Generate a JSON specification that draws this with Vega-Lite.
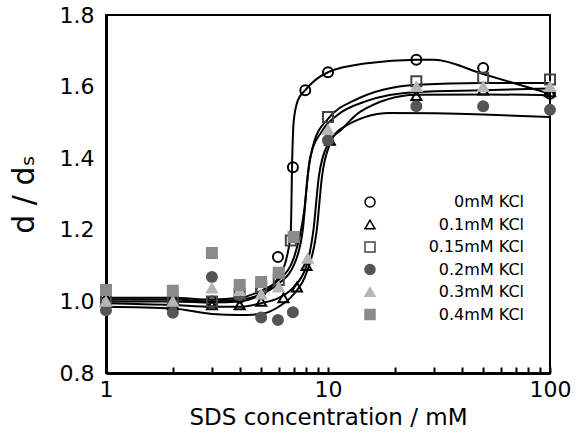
{
  "$schema": "https://vega.github.io/schema/vega-lite/v6.json",
  "autosize": {"type": "none"},
  "width": 444,
  "height": 358,
  "padding": {"left": 106, "top": 15, "right": 35, "bottom": 60},
  "background": "white",
  "config": {
    "view": {"stroke": "black", "strokeWidth": 2},
    "font": "DejaVu Sans",
    "axis": {"grid": false, "domainColor": "black", "domainWidth": 3, "tickColor": "black", "labelColor": "black", "titleColor": "black", "labelFont": "DejaVu Sans", "titleFont": "DejaVu Sans", "titleFontWeight": "normal"}
  },
  "datasets": {
    "points": [
      {"c": 1, "r": 1.0, "s": "0mM KCl"}, {"c": 2, "r": 1.0, "s": "0mM KCl"}, {"c": 3, "r": 1.0, "s": "0mM KCl"}, {"c": 4, "r": 1.01, "s": "0mM KCl"}, {"c": 5, "r": 1.03, "s": "0mM KCl"}, {"c": 5.95, "r": 1.124, "s": "0mM KCl"}, {"c": 6.95, "r": 1.375, "s": "0mM KCl"}, {"c": 7.9, "r": 1.59, "s": "0mM KCl"}, {"c": 10, "r": 1.64, "s": "0mM KCl"}, {"c": 25, "r": 1.675, "s": "0mM KCl"}, {"c": 50, "r": 1.652, "s": "0mM KCl"}, {"c": 100, "r": 1.58, "s": "0mM KCl"},
      {"c": 1, "r": 1.0, "s": "0.1mM KCl"}, {"c": 2, "r": 0.99, "s": "0.1mM KCl"}, {"c": 3, "r": 0.99, "s": "0.1mM KCl"}, {"c": 4, "r": 0.99, "s": "0.1mM KCl"}, {"c": 5, "r": 1.0, "s": "0.1mM KCl"}, {"c": 6.3, "r": 1.01, "s": "0.1mM KCl"}, {"c": 7.25, "r": 1.04, "s": "0.1mM KCl"}, {"c": 8, "r": 1.1, "s": "0.1mM KCl"}, {"c": 10.2, "r": 1.45, "s": "0.1mM KCl"}, {"c": 25, "r": 1.575, "s": "0.1mM KCl"}, {"c": 50, "r": 1.59, "s": "0.1mM KCl"}, {"c": 100, "r": 1.585, "s": "0.1mM KCl"},
      {"c": 1, "r": 1.01, "s": "0.15mM KCl"}, {"c": 2, "r": 1.0, "s": "0.15mM KCl"}, {"c": 3, "r": 1.0, "s": "0.15mM KCl"}, {"c": 4, "r": 1.02, "s": "0.15mM KCl"}, {"c": 5, "r": 1.04, "s": "0.15mM KCl"}, {"c": 6, "r": 1.06, "s": "0.15mM KCl"}, {"c": 6.8, "r": 1.17, "s": "0.15mM KCl"}, {"c": 10, "r": 1.515, "s": "0.15mM KCl"}, {"c": 25, "r": 1.615, "s": "0.15mM KCl"}, {"c": 50, "r": 1.625, "s": "0.15mM KCl"}, {"c": 100, "r": 1.62, "s": "0.15mM KCl"},
      {"c": 1, "r": 0.975, "s": "0.2mM KCl"}, {"c": 2, "r": 0.968, "s": "0.2mM KCl"}, {"c": 3, "r": 1.068, "s": "0.2mM KCl"}, {"c": 4, "r": 1.018, "s": "0.2mM KCl"}, {"c": 5, "r": 0.955, "s": "0.2mM KCl"}, {"c": 5.95, "r": 0.948, "s": "0.2mM KCl"}, {"c": 6.95, "r": 0.97, "s": "0.2mM KCl"}, {"c": 10, "r": 1.45, "s": "0.2mM KCl"}, {"c": 25, "r": 1.545, "s": "0.2mM KCl"}, {"c": 50, "r": 1.545, "s": "0.2mM KCl"}, {"c": 100, "r": 1.535, "s": "0.2mM KCl"},
      {"c": 1, "r": 1.0, "s": "0.3mM KCl"}, {"c": 2, "r": 1.0, "s": "0.3mM KCl"}, {"c": 3, "r": 1.037, "s": "0.3mM KCl"}, {"c": 4, "r": 1.03, "s": "0.3mM KCl"}, {"c": 5, "r": 1.02, "s": "0.3mM KCl"}, {"c": 6, "r": 1.04, "s": "0.3mM KCl"}, {"c": 8.1, "r": 1.12, "s": "0.3mM KCl"}, {"c": 10, "r": 1.48, "s": "0.3mM KCl"}, {"c": 25, "r": 1.6, "s": "0.3mM KCl"}, {"c": 50, "r": 1.6, "s": "0.3mM KCl"}, {"c": 100, "r": 1.6, "s": "0.3mM KCl"},
      {"c": 1, "r": 1.032, "s": "0.4mM KCl"}, {"c": 2, "r": 1.03, "s": "0.4mM KCl"}, {"c": 3, "r": 1.135, "s": "0.4mM KCl"}, {"c": 4, "r": 1.046, "s": "0.4mM KCl"}, {"c": 5, "r": 1.054, "s": "0.4mM KCl"}, {"c": 6, "r": 1.08, "s": "0.4mM KCl"}, {"c": 7, "r": 1.18, "s": "0.4mM KCl"}
    ],
    "curves": [
      {"c": 1, "r": 1.0, "s": "0mM"}, {"c": 2, "r": 1.0, "s": "0mM"}, {"c": 3, "r": 0.997, "s": "0mM"}, {"c": 4, "r": 1.0, "s": "0mM"}, {"c": 5, "r": 1.02, "s": "0mM"}, {"c": 6, "r": 1.07, "s": "0mM"}, {"c": 6.5, "r": 1.12, "s": "0mM"}, {"c": 6.8, "r": 1.2, "s": "0mM"}, {"c": 6.9, "r": 1.4, "s": "0mM"}, {"c": 7.0, "r": 1.5, "s": "0mM"}, {"c": 7.3, "r": 1.56, "s": "0mM"}, {"c": 7.9, "r": 1.59, "s": "0mM"}, {"c": 10, "r": 1.64, "s": "0mM"}, {"c": 15, "r": 1.665, "s": "0mM"}, {"c": 25, "r": 1.675, "s": "0mM"}, {"c": 30, "r": 1.675, "s": "0mM"}, {"c": 50, "r": 1.635, "s": "0mM"}, {"c": 100, "r": 1.58, "s": "0mM"},
      {"c": 1, "r": 1.005, "s": "0.15mM"}, {"c": 2, "r": 1.005, "s": "0.15mM"}, {"c": 3, "r": 1.0, "s": "0.15mM"}, {"c": 4, "r": 1.005, "s": "0.15mM"}, {"c": 5, "r": 1.02, "s": "0.15mM"}, {"c": 6, "r": 1.05, "s": "0.15mM"}, {"c": 7, "r": 1.1, "s": "0.15mM"}, {"c": 7.7, "r": 1.2, "s": "0.15mM"}, {"c": 8.1, "r": 1.35, "s": "0.15mM"}, {"c": 8.7, "r": 1.45, "s": "0.15mM"}, {"c": 10, "r": 1.51, "s": "0.15mM"}, {"c": 13, "r": 1.56, "s": "0.15mM"}, {"c": 25, "r": 1.605, "s": "0.15mM"}, {"c": 50, "r": 1.61, "s": "0.15mM"}, {"c": 100, "r": 1.61, "s": "0.15mM"},
      {"c": 1, "r": 0.995, "s": "0.1mM"}, {"c": 2, "r": 0.99, "s": "0.1mM"}, {"c": 3, "r": 0.985, "s": "0.1mM"}, {"c": 4, "r": 0.985, "s": "0.1mM"}, {"c": 5, "r": 0.995, "s": "0.1mM"}, {"c": 6, "r": 1.01, "s": "0.1mM"}, {"c": 7, "r": 1.04, "s": "0.1mM"}, {"c": 8, "r": 1.1, "s": "0.1mM"}, {"c": 8.6, "r": 1.2, "s": "0.1mM"}, {"c": 9.1, "r": 1.35, "s": "0.1mM"}, {"c": 10, "r": 1.44, "s": "0.1mM"}, {"c": 11.5, "r": 1.48, "s": "0.1mM"}, {"c": 14, "r": 1.53, "s": "0.1mM"}, {"c": 25, "r": 1.577, "s": "0.1mM"}, {"c": 50, "r": 1.578, "s": "0.1mM"}, {"c": 100, "r": 1.576, "s": "0.1mM"},
      {"c": 1, "r": 0.985, "s": "0.2mM"}, {"c": 2, "r": 0.98, "s": "0.2mM"}, {"c": 3, "r": 0.965, "s": "0.2mM"}, {"c": 4, "r": 0.962, "s": "0.2mM"}, {"c": 5, "r": 0.965, "s": "0.2mM"}, {"c": 6, "r": 0.985, "s": "0.2mM"}, {"c": 7, "r": 1.02, "s": "0.2mM"}, {"c": 8, "r": 1.08, "s": "0.2mM"}, {"c": 8.9, "r": 1.2, "s": "0.2mM"}, {"c": 9.4, "r": 1.35, "s": "0.2mM"}, {"c": 10.2, "r": 1.44, "s": "0.2mM"}, {"c": 11.3, "r": 1.48, "s": "0.2mM"}, {"c": 19, "r": 1.526, "s": "0.2mM"}, {"c": 50, "r": 1.522, "s": "0.2mM"}, {"c": 100, "r": 1.515, "s": "0.2mM"},
      {"c": 1, "r": 1.01, "s": "0.3mM"}, {"c": 2, "r": 1.01, "s": "0.3mM"}, {"c": 3, "r": 1.005, "s": "0.3mM"}, {"c": 4, "r": 1.01, "s": "0.3mM"}, {"c": 5, "r": 1.03, "s": "0.3mM"}, {"c": 6, "r": 1.06, "s": "0.3mM"}, {"c": 7, "r": 1.12, "s": "0.3mM"}, {"c": 7.8, "r": 1.25, "s": "0.3mM"}, {"c": 8.3, "r": 1.4, "s": "0.3mM"}, {"c": 9.5, "r": 1.48, "s": "0.3mM"}, {"c": 11, "r": 1.52, "s": "0.3mM"}, {"c": 15, "r": 1.56, "s": "0.3mM"}, {"c": 25, "r": 1.585, "s": "0.3mM"}, {"c": 50, "r": 1.59, "s": "0.3mM"}, {"c": 100, "r": 1.595, "s": "0.3mM"}
    ]
  },
  "layer": [
    {
      "data": {"name": "curves"},
      "mark": {"type": "line", "color": "black", "strokeWidth": 2, "interpolate": "monotone", "clip": true},
      "encoding": {
        "x": {"field": "c", "type": "quantitative", "scale": {"type": "log", "domain": [1, 100]},
          "axis": {"values": [1, 2, 3, 4, 5, 6, 7, 8, 9, 10, 20, 30, 40, 50, 60, 70, 80, 90, 100],
            "labelExpr": "datum.value == 1 || datum.value == 10 || datum.value == 100 ? format(datum.value, 'd') : ''",
            "labelOverlap": false, "labelFlush": false, "labelBound": false,
            "tickSize": -6, "tickWidth": 2, "labelFontSize": 22, "labelPadding": 12,
            "title": "SDS concentration / mM", "titleFontSize": 23, "titlePadding": 6}},
        "y": {"field": "r", "type": "quantitative", "scale": {"domain": [0.8, 1.8], "nice": false},
          "axis": {"values": [0.8, 1.0, 1.2, 1.4, 1.6, 1.8], "format": ".1f", "tickSize": 0, "labelFontSize": 22, "labelPadding": 12,
            "title": "d / dₛ", "titleFontSize": 30, "titlePadding": 20}},
        "detail": {"field": "s"}
      }
    },
    {
      "data": {"name": "points"},
      "mark": {"type": "point", "size": 100, "strokeWidth": 2, "opacity": 1},
      "encoding": {
        "x": {"field": "c", "type": "quantitative"},
        "y": {"field": "r", "type": "quantitative"},
        "shape": {"field": "s", "type": "nominal",
          "scale": {"domain": ["0mM KCl", "0.1mM KCl", "0.15mM KCl", "0.2mM KCl", "0.3mM KCl", "0.4mM KCl"],
            "range": ["circle", "triangle-up", "square", "circle", "triangle-up", "square"]},
          "legend": {"title": null, "orient": "none", "legendX": 256, "legendY": 179,
            "labelFontSize": 16, "labelAlign": "right", "labelOffset": 146, "rowPadding": 6.5, "symbolSize": 100, "labelColor": "black", "labelFont": "DejaVu Sans"}},
        "fill": {"field": "s", "type": "nominal",
          "scale": {"domain": ["0mM KCl", "0.1mM KCl", "0.15mM KCl", "0.2mM KCl", "0.3mM KCl", "0.4mM KCl"],
            "range": ["transparent", "transparent", "transparent", "#555555", "#b5b5b5", "#8a8a8a"]}},
        "stroke": {"field": "s", "type": "nominal",
          "scale": {"domain": ["0mM KCl", "0.1mM KCl", "0.15mM KCl", "0.2mM KCl", "0.3mM KCl", "0.4mM KCl"],
            "range": ["black", "black", "#444444", "#555555", "#b5b5b5", "#8a8a8a"]}}
      }
    }
  ]
}
